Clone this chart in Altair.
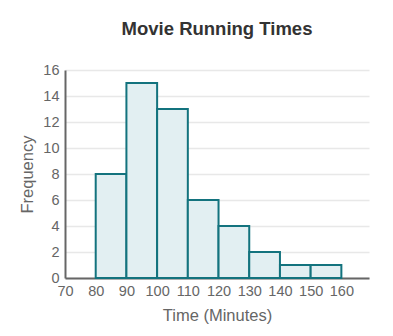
import altair as alt
import pandas as pd

bin_start = [80, 90, 100, 110, 120, 130, 140, 150]
bin_end = [90, 100, 110, 120, 130, 140, 150, 160]
frequency = [8, 15, 13, 6, 4, 2, 1, 1]
x_ticks = [70, 80, 90, 100, 110, 120, 130, 140, 150, 160]
y_ticks = [0, 2, 4, 6, 8, 10, 12, 14, 16]

df = pd.DataFrame({"start": bin_start, "end": bin_end, "freq": frequency})

chart = alt.Chart(df).mark_rect(
    fill="#e2eff2", stroke="#13737e", strokeWidth=2
).encode(
    x=alt.X("start:Q", title="Time (Minutes)",
            scale=alt.Scale(domain=[70, 169], nice=False, zero=False),
            axis=alt.Axis(values=x_ticks, grid=False, labelFlush=False)),
    x2="end:Q",
    y=alt.Y("freq:Q", title="Frequency",
            scale=alt.Scale(domain=[0, 16], nice=False),
            axis=alt.Axis(values=y_ticks, grid=True, labelFlush=False)),
).properties(
    width=304, height=208,
    title=alt.TitleParams("Movie Running Times", fontSize=18.5, fontWeight="bold",
                          color="#333333", font="Liberation Sans", offset=24),
    autosize=alt.AutoSizeParams(type="none"),
    padding={"left": 65, "top": 70, "right": 24, "bottom": 58},
).configure_view(stroke=None).configure_axis(
    labelFont="Liberation Sans", titleFont="Liberation Sans",
    labelFontSize=14.5, titleFontSize=16.5, labelColor="#666666", titleColor="#666666",
    titleFontWeight="normal", domainColor="#666666", domainWidth=2,
    ticks=False, gridColor="#e8e8e8", gridWidth=1.5,
).configure_axisY(titlePadding=7, labelPadding=6).configure_axisX(titlePadding=10, labelPadding=6)

chart.save("out.html", embed_options={"renderer": "svg", "actions": False})
